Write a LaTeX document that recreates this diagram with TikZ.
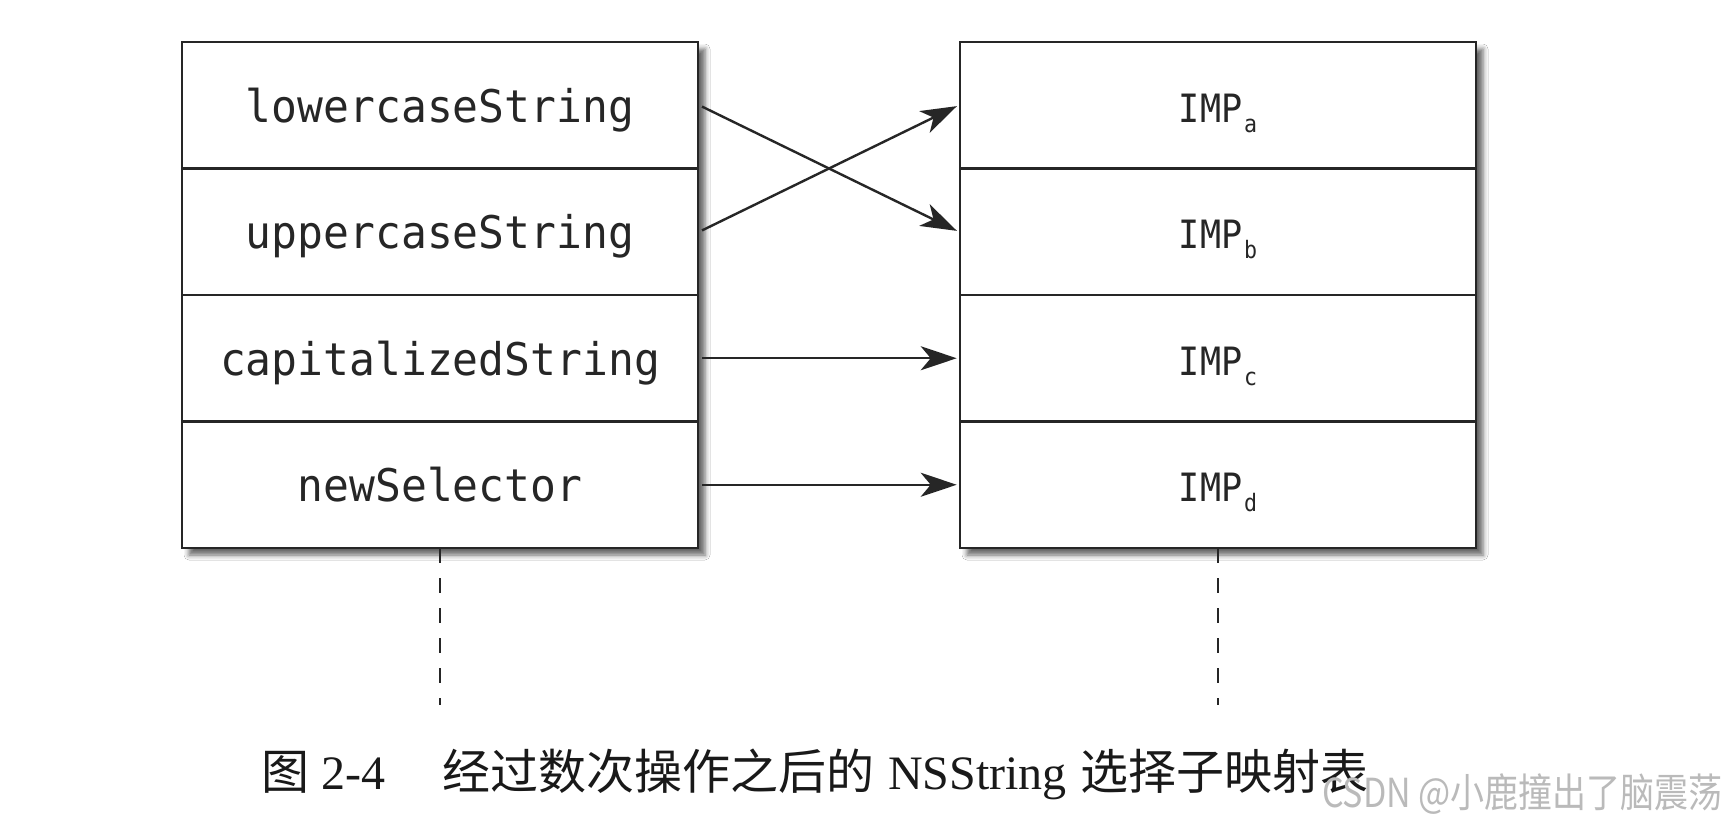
\documentclass[tikz,border=0pt]{standalone}
\usepackage{fontspec}
\setmainfont{Liberation Serif}
\newfontfamily\monofont{DejaVu Sans Mono}
\newfontfamily\cjkfont{Noto Sans CJK SC}
\usetikzlibrary{arrows.meta,shadows.blur}
\newcommand{\impsub}[1]{\hspace{2pt}\raisebox{-10pt}{\fontsize{24}{24}\selectfont #1}}
\newcommand{\narrow}[2]{\scalebox{#1}[1]{#2}}
\begin{document}
\begin{tikzpicture}[x=1pt,y=-1pt,
  cell/.style={draw=black!85, line width=2.6pt, minimum width=516pt, minimum height=126.5pt,
    inner sep=0pt, text height=34pt, text depth=0pt, text=black!85},
  sel/.style={cell, font=\monofont\fontsize{45}{45}\selectfont},
  imp/.style={cell, font=\monofont\fontsize{39}{39}\selectfont},
  tbl/.style={minimum width=516pt, minimum height=506pt, inner sep=0pt, fill=white,
    blur shadow={shadow xshift=7pt, shadow yshift=-7pt, shadow blur radius=5pt, shadow opacity=60}},
  arr/.style={draw=black!85, line width=2.4pt, -{Stealth[length=36pt,width=24pt,inset=10pt]},
    shorten <=3pt, shorten >=2pt},
  tail/.style={draw=black!85, line width=2pt, dash pattern=on 15pt off 15pt},
  captionstyle/.style={anchor=base west, inner sep=0pt, text=black!90, font=\fontsize{48}{48}\selectfont},
]
\useasboundingbox[fill=white] (0,0) rectangle (1728,824);

% table backgrounds with shadow
\node[tbl] (Lbox) at (440,295) {};
\node[tbl] (Rbox) at (1218,295) {};

% selector cells
\node[sel] (l1) at (440,105.25) {\narrow{0.955}{lowercaseString}};
\node[sel] (l2) at (440,231.75) {\narrow{0.955}{uppercaseString}};
\node[sel] (l3) at (440,358.25) {\narrow{0.955}{capitalizedString}};
\node[sel] (l4) at (440,484.75) {\narrow{0.955}{newSelector}};

% implementation cells
\node[imp] (r1) at (1218,105.25) {\narrow{0.9}{IMP\impsub{a}}};
\node[imp] (r2) at (1218,231.75) {\narrow{0.9}{IMP\impsub{b}}};
\node[imp] (r3) at (1218,358.25) {\narrow{0.9}{IMP\impsub{c}}};
\node[imp] (r4) at (1218,484.75) {\narrow{0.9}{IMP\impsub{d}}};

% mapping arrows
\draw[arr] (l1.east) -- (r2.west);
\draw[arr] (l2.east) -- (r1.west);
\draw[arr] (l3.east) -- (r3.west);
\draw[arr] (l4.east) -- (r4.west);

% continuation tails
\coordinate (lend) at (440,705);
\coordinate (rend) at (1218,705);
\draw[tail] (Lbox.south) -- (lend);
\draw[tail] (Rbox.south) -- (rend);

% caption
\node[captionstyle] (capno) at (261,789) {{\cjkfont 图}\hspace{12pt}2-4};
\node[captionstyle] (captext) at (442,789) {{\cjkfont 经过数次操作之后的}\hspace{14pt}NSString\hspace{14pt}{\cjkfont 选择子映射表}};

% watermark
\node[anchor=base east, inner sep=0pt, text=black!27, font=\cjkfont\fontsize{40}{40}\selectfont] (wm) at (1723,807) {\narrow{0.85}{CSDN @小鹿撞出了脑震荡}};
\end{tikzpicture}
\end{document}
